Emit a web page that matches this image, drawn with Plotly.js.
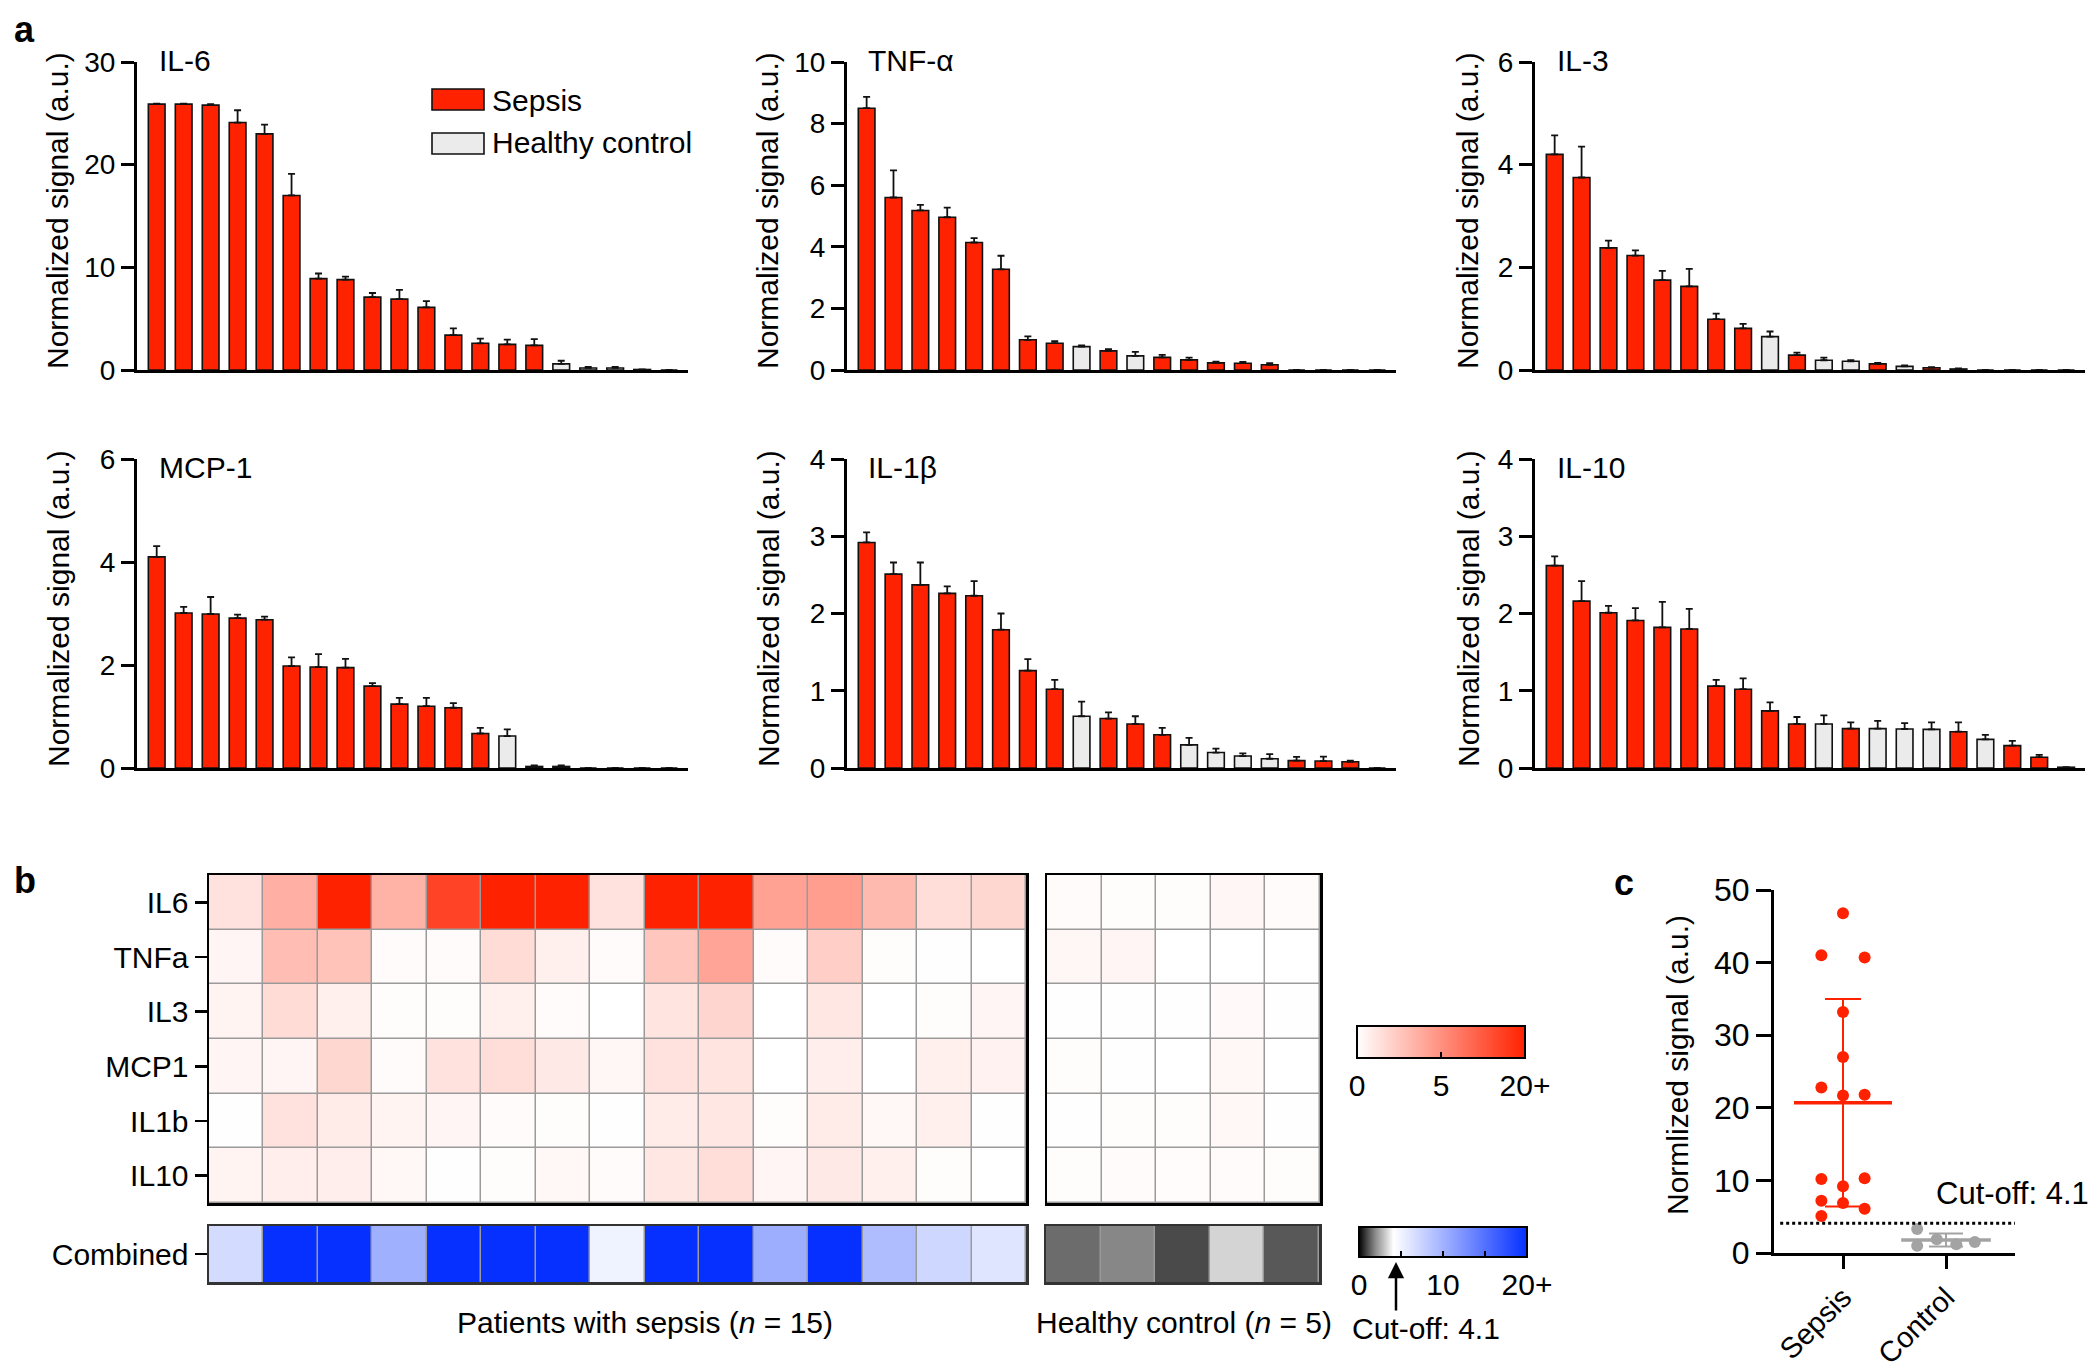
<!DOCTYPE html>
<html>
<head>
<meta charset="utf-8">
<script src="https://cdn.plot.ly/plotly-3.0.1.min.js"></script>
<style>html,body{margin:0;padding:0;background:#fff;}</style>
</head>
<body>
<div id="chart" style="width:2100px;height:1372px;"></div>
<script>
// ================= DATA =================
// Panel a: bars sorted per cytokine (rank 1..20); group S = sepsis, C = healthy control
const rank = [1,2,3,4,5,6,7,8,9,10,11,12,13,14,15,16,17,18,19,20];

const il6Values = [25.9,25.9,25.8,24.1,23.0,17.0,8.9,8.8,7.1,6.9,6.1,3.4,2.6,2.5,2.4,0.6,0.2,0.2,0.05,0];
const il6Errors = [0.05,0.05,0.1,1.2,0.9,2.1,0.5,0.3,0.4,0.9,0.6,0.65,0.45,0.45,0.6,0.3,0.1,0.1,0.02,0];
const il6Groups = ['S','S','S','S','S','S','S','S','S','S','S','S','S','S','S','C','C','C','C','C'];

const tnfValues = [8.5,5.6,5.18,4.96,4.14,3.27,0.98,0.87,0.76,0.62,0.46,0.41,0.33,0.23,0.22,0.17,0,0,0,0];
const tnfErrors = [0.37,0.88,0.18,0.31,0.14,0.44,0.11,0.07,0.04,0.06,0.13,0.08,0.07,0.04,0.04,0.05,0,0,0,0];
const tnfGroups = ['S','S','S','S','S','S','S','S','C','S','C','S','S','S','S','S','S','C','C','C'];

const il3Values = [4.2,3.75,2.38,2.23,1.75,1.63,0.99,0.81,0.65,0.29,0.19,0.17,0.12,0.07,0.045,0.02,0,0,0,0];
const il3Errors = [0.37,0.6,0.14,0.1,0.18,0.34,0.11,0.09,0.1,0.05,0.05,0.02,0.02,0.02,0.01,0.01,0,0,0,0];
const il3Groups = ['S','S','S','S','S','S','S','S','C','S','C','C','S','C','S','S','S','S','S','C'];

const mcp1Values = [4.1,3.01,2.99,2.91,2.88,1.98,1.96,1.95,1.59,1.24,1.2,1.17,0.67,0.62,0.03,0.03,0,0,0,0];
const mcp1Errors = [0.21,0.12,0.33,0.07,0.06,0.17,0.25,0.17,0.06,0.12,0.16,0.09,0.11,0.13,0.02,0.02,0,0,0,0];
const mcp1Groups = ['S','S','S','S','S','S','S','S','S','S','S','S','S','C','S','S','C','C','C','C'];

const il1bValues = [2.92,2.51,2.37,2.26,2.23,1.79,1.26,1.02,0.67,0.64,0.57,0.43,0.30,0.20,0.155,0.12,0.095,0.09,0.08,0];
const il1bErrors = [0.13,0.15,0.29,0.09,0.19,0.21,0.15,0.12,0.19,0.08,0.1,0.09,0.09,0.05,0.035,0.06,0.05,0.057,0.015,0];
const il1bGroups = ['S','S','S','S','S','S','S','S','C','S','S','S','C','C','C','C','S','S','S','S'];

const il10Values = [2.62,2.16,2.01,1.91,1.82,1.8,1.06,1.02,0.74,0.57,0.57,0.51,0.51,0.505,0.5,0.47,0.37,0.29,0.14,0.01];
const il10Errors = [0.12,0.26,0.09,0.16,0.33,0.26,0.08,0.14,0.11,0.09,0.11,0.08,0.1,0.075,0.09,0.12,0.06,0.06,0.03,0];
const il10Groups = ['S','S','S','S','S','S','S','S','S','S','C','S','C','C','C','S','C','S','S','S'];

// Panel b: heatmap (values on colour-bar scale, 0 .. 20+)
const cytokines = ['IL6','TNFa','IL3','MCP1','IL1b','IL10'];
const sepsisPatients = ['P1','P2','P3','P4','P5','P6','P7','P8','P9','P10','P11','P12','P13','P14','P15'];
const healthyDonors = ['H1','H2','H3','H4','H5'];

const sepsisIL6  = [1.3,3.6,21,3.5,15.5,21,21,1.3,21,21,4.2,4.4,3.1,1.5,1.8];
const sepsisTNFa = [0.45,3.0,2.7,0.2,0.2,1.6,0.7,0.2,2.6,4.1,0.2,2.2,0.1,0.05,0];
const sepsisIL3  = [0.5,1.6,0.7,0.1,0.1,0.7,0.2,0,1.2,1.9,0,1.05,0,0.1,0.45];
const sepsisMCP1 = [0.45,0.45,1.8,0.2,1.3,1.5,1.0,0.35,1.3,1.2,0,0.75,0,0.7,0.6];
const sepsisIL1b = [0.05,1.3,0.9,0.5,0.45,0.2,0.1,0.05,0.9,1.05,0.1,0.9,0.3,0.7,0.05];
const sepsisIL10 = [0.5,0.75,0.75,0.3,0.05,0.1,0.3,0.2,1.05,1.5,0.45,1.0,0.7,0.1,0];

const healthyIL6  = [0.2,0.1,0.1,0.4,0.2];
const healthyTNFa = [0.35,0.45,0,0,0];
const healthyIL3  = [0.05,0.05,0.05,0.25,0.05];
const healthyMCP1 = [0.1,0.05,0,0.3,0];
const healthyIL1b = [0.05,0.1,0.1,0.3,0.05];
const healthyIL10 = [0.1,0.2,0.15,0.2,0.1];

// Combined score (panel b bottom row and panel c)
const combinedSepsis  = [6.9,46.8,41.0,10.2,40.7,33.2,27.0,5.1,22.8,21.8,10.3,21.7,9.2,7.2,6.1];
const combinedControl = [1.5,1.9,1.0,3.3,1.2];
const cutoff = 4.1;

// Panel c summary (mean ± SD)
const groupNames = ['Sepsis','Control'];
const groupMeans = [20.7, 1.8];
const groupSDs   = [14.3, 0.9];

// ================= STYLE / LAYOUT =================
const W = 2100, H = 1372;
const fx = v => v / W;
const fy = v => 1 - v / H;
const RED = '#ff2200', GRAY = '#ebebeb';
const FONT = 'Liberation Sans, Arial, Helvetica, sans-serif';
const TXT = 30;

// jitter offsets (x positions of dots inside each column of panel c)
const sepsisJitter  = [0,0,-0.21,-0.21,0.21,0,0,-0.21,-0.21,0.21,0.21,0,0,-0.21,0.21];
const controlJitter = [0.28,-0.09,-0.28,-0.28,0.1];

const panels = [
  {title:'IL-6',  v:il6Values,  e:il6Errors,  g:il6Groups,  ymax:30, dtick:10, col:0, row:0},
  {title:'TNF-α', v:tnfValues,  e:tnfErrors,  g:tnfGroups,  ymax:10, dtick:2,  col:1, row:0},
  {title:'IL-3',  v:il3Values,  e:il3Errors,  g:il3Groups,  ymax:6,  dtick:2,  col:2, row:0},
  {title:'MCP-1', v:mcp1Values, e:mcp1Errors, g:mcp1Groups, ymax:6,  dtick:2,  col:0, row:1},
  {title:'IL-1β', v:il1bValues, e:il1bErrors, g:il1bGroups, ymax:4,  dtick:1,  col:1, row:1},
  {title:'IL-10', v:il10Values, e:il10Errors, g:il10Groups, ymax:4,  dtick:1,  col:2, row:1},
];
const colX = [[137,688],[847,1396],[1535,2085]];
const rowY = [[62,370],[459,768]];
const titleX = [157, 866, 1555];
const titleY = [60, 468];
const ylabX = [58, 768, 1468];
const ylabY = [211, 609];

const layout = {
  width: W, height: H,
  margin: {l:0, r:0, t:0, b:0},
  paper_bgcolor: '#fff', plot_bgcolor: '#fff',
  font: {family: FONT, color: '#000', size: TXT},
  showlegend: false,
  bargap: 0.38,
  annotations: [], shapes: []
};
const traces = [];

panels.forEach((p, i) => {
  const n = i + 1;
  const xa = n === 1 ? 'xaxis' : 'xaxis' + n;
  const ya = n === 1 ? 'yaxis' : 'yaxis' + n;
  const xr = n === 1 ? 'x' : 'x' + n;
  const yr = n === 1 ? 'y' : 'y' + n;
  const cx = colX[p.col], ry = rowY[p.row];
  layout[xa] = {domain:[fx(cx[0]), fx(cx[1])], anchor: yr, range:[0.27, 20.7],
    showline:true, linewidth:3, linecolor:'#000', ticks:'', showticklabels:false,
    showgrid:false, zeroline:false};
  layout[ya] = {domain:[fy(ry[1]), fy(ry[0])], anchor: xr, range:[0, p.ymax], tick0:0, dtick:p.dtick,
    showline:true, linewidth:3, linecolor:'#000', ticks:'outside', ticklen:13, tickwidth:3, tickcolor:'#000',
    tickfont:{size:28}, showgrid:false, zeroline:false};
  traces.push({
    type:'bar', x: rank, y: p.v, xaxis: xr, yaxis: yr,
    marker:{color: p.g.map(g => g === 'S' ? RED : GRAY), line:{color:'#111', width:1.6}},
    error_y:{type:'data', symmetric:false, array:p.e, arrayminus:p.e.map(() => 0),
      color:'#111', thickness:1.8, width:3.5},
    hovertemplate: p.title + ' #%{x}: %{y}<extra></extra>'
  });
  layout.annotations.push({text:p.title, xref:'paper', yref:'paper', x:fx(titleX[p.col]), y:fy(titleY[p.row]),
    xanchor:'left', yanchor:'middle', showarrow:false, font:{size:TXT}});
  layout.annotations.push({text:'Normalized signal (a.u.)', xref:'paper', yref:'paper', x:fx(ylabX[p.col]), y:fy(ylabY[p.row]),
    xanchor:'center', yanchor:'middle', textangle:-90, showarrow:false, font:{size:TXT}});
});

// legend (panel a)
layout.shapes.push({type:'rect', xref:'paper', yref:'paper', x0:fx(432), x1:fx(484), y0:fy(110), y1:fy(89),
  fillcolor:RED, line:{color:'#111', width:1.6}});
layout.shapes.push({type:'rect', xref:'paper', yref:'paper', x0:fx(432), x1:fx(484), y0:fy(154), y1:fy(133),
  fillcolor:GRAY, line:{color:'#111', width:1.6}});
layout.annotations.push({text:'Sepsis', xref:'paper', yref:'paper', x:fx(490), y:fy(100), xanchor:'left', yanchor:'middle', showarrow:false, font:{size:TXT}});
layout.annotations.push({text:'Healthy control', xref:'paper', yref:'paper', x:fx(490), y:fy(143), xanchor:'left', yanchor:'middle', showarrow:false, font:{size:TXT}});

// ---------- Panel b: heatmaps ----------
const toRed = v => v <= 5 ? 0.5 * v / 5 : Math.min(1, 0.5 + 0.5 * (v - 5) / 15);
const toBlue = v => Math.min(v, 20) / 20;
const sepsisHeat = [sepsisIL6, sepsisTNFa, sepsisIL3, sepsisMCP1, sepsisIL1b, sepsisIL10];
const healthyHeat = [healthyIL6, healthyTNFa, healthyIL3, healthyMCP1, healthyIL1b, healthyIL10];

layout.coloraxis = {cmin:0, cmax:1, colorscale:[[0,'#ffffff'],[1,RED]],
  colorbar:{orientation:'h', x:fx(1441), xanchor:'center', y:fy(1026), yanchor:'top',
    len:168, lenmode:'pixels', thickness:32, thicknessmode:'pixels', xpad:0, ypad:0,
    outlinewidth:2, outlinecolor:'#000', tickvals:[0,0.5,1], ticktext:['0','5','20+'],
    ticks:'inside', ticklen:7, tickwidth:2, tickcolor:'#000', tickfont:{size:TXT, family:FONT}}};
layout.coloraxis2 = {cmin:0, cmax:1,
  colorscale:[[0,'#000000'],[0.05,'#4a4a4a'],[0.1,'#8e8e8e'],[cutoff/20,'#ffffff'],[1,'#0530ff']],
  colorbar:{orientation:'h', x:fx(1443), xanchor:'center', y:fy(1227), yanchor:'top',
    len:168, lenmode:'pixels', thickness:30, thicknessmode:'pixels', xpad:0, ypad:0,
    outlinewidth:2, outlinecolor:'#000', tickvals:[0,0.25,0.5,0.75,1], ticktext:['0','','10','','20+'],
    ticks:'inside', ticklen:7, tickwidth:2, tickcolor:'#000', tickfont:{size:TXT, family:FONT}}};

function heatAxes(n, x0, x1, y0, y1, showLabels, lineColor) {
  layout['xaxis' + n] = {domain:[fx(x0), fx(x1)], anchor:'y' + n, type:'category',
    showticklabels:false, ticks:'', showgrid:false, zeroline:false,
    showline:true, mirror:true, linewidth:2.5, linecolor:lineColor};
  layout['yaxis' + n] = {domain:[fy(y1), fy(y0)], anchor:'x' + n, type:'category', autorange:'reversed',
    showticklabels:showLabels, ticks: showLabels ? 'outside' : '', ticklen:12, tickwidth:2.5, tickcolor:'#000',
    tickfont:{size:TXT}, showgrid:false, zeroline:false,
    showline:true, mirror:true, linewidth:2.5, linecolor:lineColor};
  layout.shapes.push({type:'rect', xref:'x' + n + ' domain', yref:'y' + n + ' domain', x0:0, x1:1, y0:0, y1:1,
    fillcolor:'#9a9a9a', line:{width:0}, layer:'below'});
}
heatAxes(7, 209, 1026, 875, 1203, true, '#000');
heatAxes(8, 1047, 1320, 875, 1203, false, '#000');
heatAxes(9, 209, 1026, 1226, 1282, true, '#333');
heatAxes(10, 1046, 1319, 1226, 1282, false, '#333');

traces.push({type:'heatmap', x:sepsisPatients, y:cytokines, z:sepsisHeat.map(r => r.map(toRed)),
  customdata:sepsisHeat, coloraxis:'coloraxis', xaxis:'x7', yaxis:'y7', xgap:1.5, ygap:1.5,
  hovertemplate:'%{y} %{x}: %{customdata}<extra></extra>'});
traces.push({type:'heatmap', x:healthyDonors, y:cytokines, z:healthyHeat.map(r => r.map(toRed)),
  customdata:healthyHeat, coloraxis:'coloraxis', xaxis:'x8', yaxis:'y8', xgap:1.5, ygap:1.5,
  hovertemplate:'%{y} %{x}: %{customdata}<extra></extra>'});
traces.push({type:'heatmap', x:sepsisPatients, y:['Combined'], z:[combinedSepsis.map(toBlue)],
  customdata:[combinedSepsis], coloraxis:'coloraxis2', xaxis:'x9', yaxis:'y9', xgap:1.5, ygap:0,
  hovertemplate:'Combined %{x}: %{customdata}<extra></extra>'});
traces.push({type:'heatmap', x:healthyDonors, y:['Combined'], z:[combinedControl.map(toBlue)],
  customdata:[combinedControl], coloraxis:'coloraxis2', xaxis:'x10', yaxis:'y10', xgap:1.5, ygap:0,
  hovertemplate:'Combined %{x}: %{customdata}<extra></extra>'});

layout.annotations.push({text:'Patients with sepsis (<i>n</i> = 15)', xref:'paper', yref:'paper', x:fx(645), y:fy(1322),
  xanchor:'center', yanchor:'middle', showarrow:false, font:{size:TXT}});
layout.annotations.push({text:'Healthy control (<i>n</i> = 5)', xref:'paper', yref:'paper', x:fx(1184), y:fy(1322),
  xanchor:'center', yanchor:'middle', showarrow:false, font:{size:TXT}});
layout.annotations.push({text:'Cut-off: 4.1', xref:'paper', yref:'paper', x:fx(1350), y:fy(1328),
  xanchor:'left', yanchor:'middle', showarrow:false, font:{size:TXT}});
layout.annotations.push({text:'', xref:'paper', yref:'paper', x:fx(1396), y:fy(1262), ax:0, ay:50,
  showarrow:true, arrowhead:2, arrowsize:1.3, arrowwidth:2.5, arrowcolor:'#000'});

// ---------- Panel c ----------
layout.xaxis11 = {domain:[fx(1774), fx(2015)], anchor:'y11', range:[-0.67, 1.67],
  tickvals:[0,1], ticktext:groupNames, tickangle:-45, ticks:'outside', ticklen:13, tickwidth:3, tickcolor:'#000',
  tickfont:{size:29}, showline:true, linewidth:3, linecolor:'#000', showgrid:false, zeroline:false};
layout.yaxis11 = {domain:[fy(1253), fy(890)], anchor:'x11', range:[0,50], dtick:10, tick0:0,
  ticks:'outside', ticklen:15, tickwidth:3, tickcolor:'#000', tickfont:{size:32},
  showline:true, linewidth:3, linecolor:'#000', showgrid:false, zeroline:false};

const groupColors = [RED, '#a3a3a3'];
const meanWidths = [70, 64];
const capWidths = [18, 17];
groupMeans.forEach((m, i) => {
  traces.push({type:'scatter', mode:'markers', x:[i], y:[m], xaxis:'x11', yaxis:'y11',
    marker:{symbol:'line-ew', size:meanWidths[i], color:groupColors[i], line:{color:groupColors[i], width:3.5}},
    error_y:{type:'data', array:[groupSDs[i]], visible:true, color:groupColors[i], thickness:2, width:capWidths[i]},
    hovertemplate: groupNames[i] + ' mean %{y}<extra></extra>'});
});
traces.push({type:'scatter', mode:'markers', x:sepsisJitter.map(j => 0 + j), y:combinedSepsis, xaxis:'x11', yaxis:'y11',
  marker:{size:12, color:RED}, hovertemplate:'Sepsis %{y}<extra></extra>'});
traces.push({type:'scatter', mode:'markers', x:controlJitter.map(j => 1 + j), y:combinedControl, xaxis:'x11', yaxis:'y11',
  marker:{size:12, color:'#a3a3a3'}, hovertemplate:'Control %{y}<extra></extra>'});

layout.shapes.push({type:'line', xref:'x11', yref:'y11', x0:-0.61, x1:1.67, y0:cutoff, y1:cutoff,
  line:{color:'#000', width:3, dash:'dot'}});
layout.annotations.push({text:'Cut-off: 4.1', xref:'paper', yref:'paper', x:fx(1934), y:fy(1193),
  xanchor:'left', yanchor:'middle', showarrow:false, font:{size:31}});
layout.annotations.push({text:'Normlized signal (a.u.)', xref:'paper', yref:'paper', x:fx(1677), y:fy(1065),
  xanchor:'center', yanchor:'middle', textangle:-90, showarrow:false, font:{size:TXT}});

// panel letters
[['a',12,30],['b',12,880],['c',1612,882]].forEach(([t,x,y]) => {
  layout.annotations.push({text:'<b>' + t + '</b>', xref:'paper', yref:'paper', x:fx(x), y:fy(y),
    xanchor:'left', yanchor:'middle', showarrow:false, font:{size:36}});
});

Plotly.newPlot('chart', traces, layout, {displayModeBar:false, staticPlot:true});
</script>
</body>
</html>
